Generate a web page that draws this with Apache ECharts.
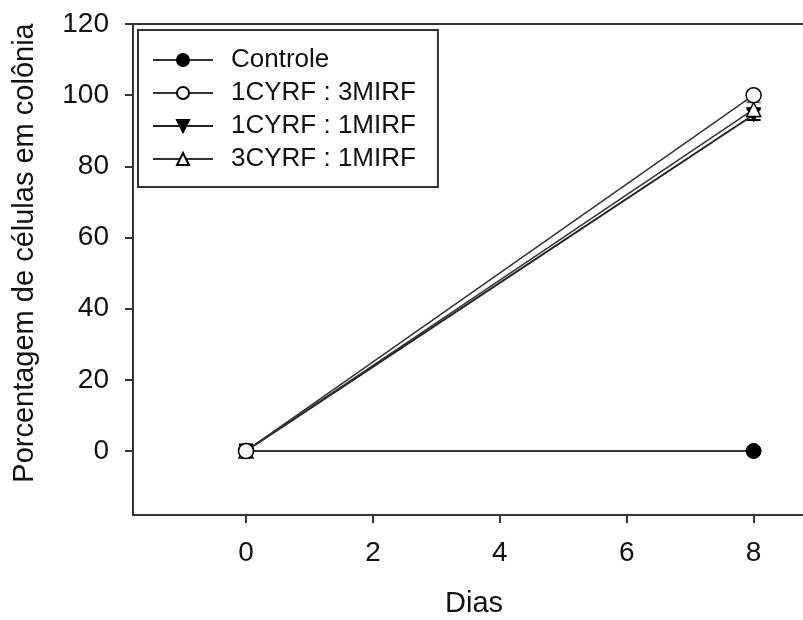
<!DOCTYPE html>
<html>
<head>
<meta charset="utf-8">
<script src="https://cdn.jsdelivr.net/npm/echarts@6/dist/echarts.min.js"></script>
<style>
  html, body { margin: 0; padding: 0; background: #fff; }
  #chart { width: 803px; height: 620px; }
</style>
</head>
<body>
<div id="chart"></div>
<script>
// Days of culture and percentage of cells in colony per co-culture ratio
const dias = [0, 8];
const controle = [0, 0];
const cy1mi3 = [0, 100];
const cy1mi1 = [0, 94.5];
const cy3mi1 = [0, 96];
// standard deviation at each day (0 where none is drawn)
const sdCy1mi1 = [0, 1.5];
const sdCy3mi1 = [0, 2];

const xTicks = [0, 2, 4, 6, 8];
const yTicks = [0, 20, 40, 60, 80, 100, 120];

const seriesNames = ['Controle', '1CYRF : 3MIRF', '1CYRF : 1MIRF', '3CYRF : 1MIRF'];

const FONT = '"Liberation Sans", Arial, sans-serif';
const INK = '#111';
const LINE = '#333';

function pairs(ys) { return dias.map((d, i) => [d, ys[i]]); }
function errData(ys, sd) {
  return dias.map((d, i) => [d, ys[i] - sd[i], ys[i] + sd[i]]).filter((r, i) => sd[i] > 0);
}

function errorBars(color) {
  return function (params, api) {
    const x = api.value(0);
    const lo = api.coord([x, api.value(1)]);
    const hi = api.coord([x, api.value(2)]);
    const w = 7;
    const style = { stroke: color, lineWidth: 2 };
    return {
      type: 'group',
      children: [
        { type: 'line', shape: { x1: lo[0], y1: lo[1], x2: hi[0], y2: hi[1] }, style },
        { type: 'line', shape: { x1: lo[0] - w, y1: lo[1], x2: lo[0] + w, y2: lo[1] }, style },
        { type: 'line', shape: { x1: hi[0] - w, y1: hi[1], x2: hi[0] + w, y2: hi[1] }, style }
      ]
    };
  };
}

const chart = echarts.init(document.getElementById('chart'), null, { renderer: 'canvas' });

chart.setOption({
  animation: false,
  backgroundColor: '#fff',
  grid: {
    left: 133, top: 24, width: 700, height: 491,
    outerBoundsMode: 'none', containLabel: false,
    show: true, borderColor: LINE, borderWidth: 2, backgroundColor: 'transparent'
  },
  legend: {
    orient: 'vertical',
    left: 138, top: 30,
    data: seriesNames,
    itemWidth: 60, itemHeight: 15, itemGap: 7,
    padding: [17, 22, 15, 14],
    borderColor: LINE, borderWidth: 2, borderRadius: 0,
    textStyle: { fontFamily: FONT, fontSize: 26, color: INK, lineHeight: 26, padding: [0, 0, 0, 13] },
    selectedMode: false
  },
  xAxis: {
    type: 'value',
    min: -1.781, max: 9.251,
    axisLine: { show: true, onZero: false, lineStyle: { color: LINE, width: 2 } },
    axisTick: { show: true, customValues: xTicks, length: 8, lineStyle: { color: LINE, width: 2 } },
    axisLabel: { customValues: xTicks, margin: 24, fontFamily: FONT, fontSize: 28, color: INK },
    splitLine: { show: false }
  },
  yAxis: {
    type: 'value',
    min: -18, max: 120,
    axisLine: { show: true, onZero: false, lineStyle: { color: LINE, width: 2 } },
    axisTick: { show: true, customValues: yTicks, length: 8, lineStyle: { color: LINE, width: 2 } },
    axisLabel: { customValues: yTicks, margin: 24, fontFamily: FONT, fontSize: 28, color: INK },
    splitLine: { show: false }
  },
  graphic: [
    {
      type: 'text', x: 25, y: 253, rotation: Math.PI / 2,
      style: {
        text: 'Porcentagem de células em colônia', fontFamily: FONT, fontSize: 29,
        fill: INK, align: 'center', verticalAlign: 'middle'
      }
    },
    {
      type: 'text', x: 474, y: 604,
      style: {
        text: 'Dias', fontFamily: FONT, fontSize: 29,
        fill: INK, align: 'center', verticalAlign: 'middle'
      }
    }
  ],
  series: [
    {
      name: seriesNames[0], type: 'line', data: pairs(controle),
      symbol: 'circle', symbolSize: 15,
      lineStyle: { color: LINE, width: 2 },
      itemStyle: { color: '#000', borderColor: '#000', borderWidth: 1 },
      z: 3
    },
    {
      name: seriesNames[2], type: 'line', data: pairs(cy1mi1),
      symbol: 'triangle', symbolRotate: 180, symbolSize: 14,
      lineStyle: { color: '#222', width: 2 },
      itemStyle: { color: '#000', borderColor: '#000', borderWidth: 1 },
      z: 3
    },
    {
      name: seriesNames[3], type: 'line', data: pairs(cy3mi1),
      symbol: 'triangle', symbolSize: 14,
      lineStyle: { color: LINE, width: 1.5 },
      itemStyle: { color: '#fff', borderColor: '#000', borderWidth: 1.5 },
      z: 4
    },
    {
      name: seriesNames[1], type: 'line', data: pairs(cy1mi3),
      symbol: 'circle', symbolSize: 15,
      lineStyle: { color: LINE, width: 1.5 },
      itemStyle: { color: '#fff', borderColor: '#000', borderWidth: 1.5 },
      z: 5
    },
    {
      type: 'custom', name: 'sd-1', data: errData(cy1mi1, sdCy1mi1),
      renderItem: errorBars('#000'), encode: { x: 0, y: [1, 2] }, z: 2, silent: true
    },
    {
      type: 'custom', name: 'sd-3', data: errData(cy3mi1, sdCy3mi1),
      renderItem: errorBars('#777'), encode: { x: 0, y: [1, 2] }, z: 2, silent: true
    }
  ]
});
</script>
</body>
</html>
